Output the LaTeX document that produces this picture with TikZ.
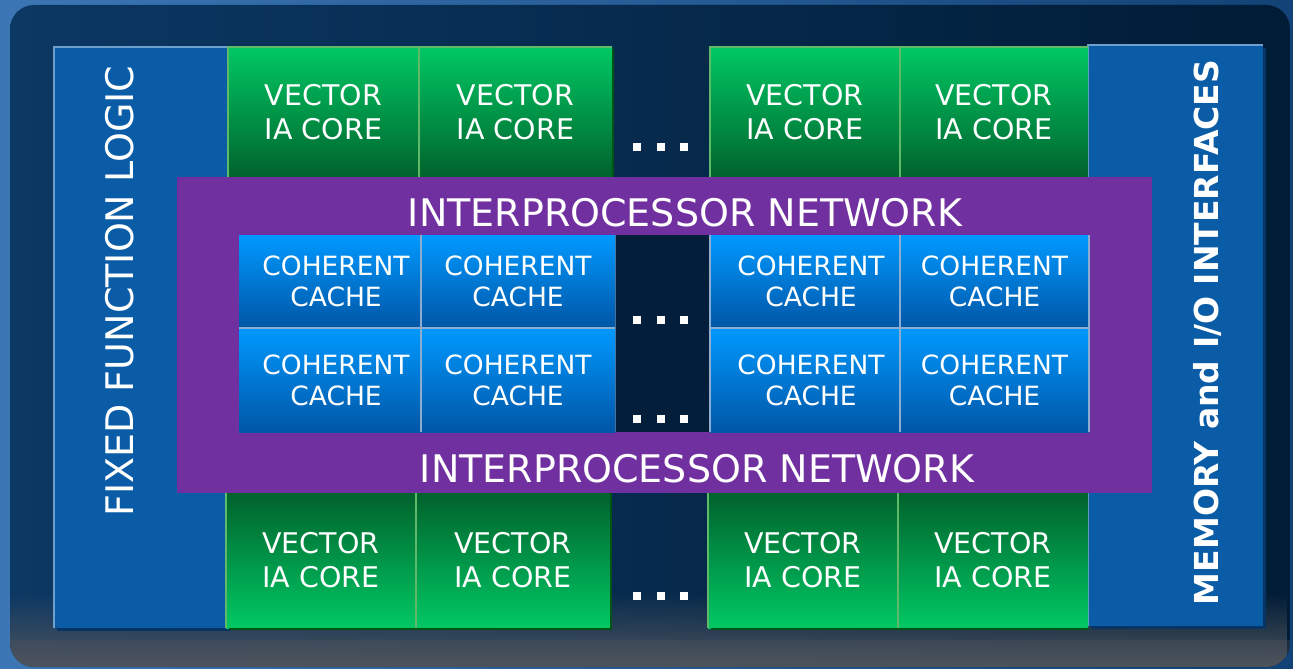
\documentclass[tikz,border=0pt]{standalone}
\usepackage{fontspec}
\setmainfont{DejaVu Sans}
\usetikzlibrary{fadings}
\definecolor{outerbg}{RGB}{26,94,168}
\definecolor{navyL}{RGB}{12,56,100}
\definecolor{navyR}{RGB}{0,28,54}
\definecolor{floorgray}{RGB}{78,84,92}
\definecolor{sidefill}{RGB}{10,92,166}
\definecolor{sideedge}{RGB}{110,160,205}
\definecolor{sideshadow}{RGB}{6,52,100}
\definecolor{greenTop}{RGB}{0,200,100}
\definecolor{greenBot}{RGB}{0,98,44}
\definecolor{greenEdge}{RGB}{95,185,105}
\definecolor{greenShadow}{RGB}{0,85,20}
\definecolor{cacheTop}{RGB}{0,153,255}
\definecolor{cacheBot}{RGB}{0,86,166}
\definecolor{cacheEdge}{RGB}{140,172,208}
\definecolor{purpleNet}{RGB}{112,48,160}
\definecolor{gapNavy}{RGB}{2,30,58}
\tikzset{
  sidebox/.style={rectangle, inner sep=0pt, fill=sidefill},
  corebox/.style={rectangle, inner sep=0pt, text=white, align=center,
    font=\fontsize{28.5}{34}\selectfont},
  coretop/.style={corebox, top color=greenTop, bottom color=greenBot},
  corebot/.style={corebox, top color=greenBot, bottom color=greenTop},
  cachebox/.style={rectangle, inner sep=0pt, text=white, align=center,
    top color=cacheTop, bottom color=cacheBot,
    font=\fontsize{26.5}{31}\selectfont},
  nettext/.style={inner sep=0pt, text=white, font=\fontsize{38}{40}\selectfont},
  dotsq/.style={rectangle, fill=white, inner sep=0pt, minimum size=8pt},
  greenline/.style={greenEdge, line width=2pt},
  greenshade/.style={greenShadow, line width=2pt},
  cacheline/.style={cacheEdge, line width=2pt},
}
\begin{document}
\begin{tikzpicture}[x=1pt,y=1pt]
\useasboundingbox (0,0) rectangle (1293,-669);
% background
\shade[left color=outerbg!85!white, right color=outerbg!70!black] (0,0) rectangle (1293,-669);
\begin{scope}
  \clip[rounded corners=24pt] (10,-5) rectangle (1290,-667);
  \shade[left color=navyL, right color=navyR] (10,-5) rectangle (1290,-667);
  \fill[floorgray, path fading=north] (10,-592) rectangle (1290,-667);
  \fill[floorgray, opacity=0.35] (10,-640) rectangle (1290,-667);
\end{scope}

% side boxes
\fill[sideshadow] (57,-50) rectangle (231,-631);
\node[sidebox, minimum width=174pt, minimum height=581pt] (ffl) at (141,-337.5) {};
\draw[sideedge, line width=2pt] (ffl.south west) -- (ffl.north west) -- (ffl.north east);
\fill[sideshadow] (1091,-48) rectangle (1266,-629);
\node[sidebox, minimum width=175pt, minimum height=581pt] (mem) at (1175.5,-335.5) {};
\draw[sideedge, line width=2pt] (mem.south west) -- (mem.north west) -- (mem.north east);

% top cores
\node[coretop, minimum width=191pt, minimum height=131pt] (t1) at (323.5,-112.5) {VECTOR\\IA CORE};
\node[coretop, minimum width=193pt, minimum height=131pt] (t2) at (515.5,-112.5) {VECTOR\\IA CORE};
\node[coretop, minimum width=190pt, minimum height=131pt] (t3) at (805,-112.5) {VECTOR\\IA CORE};
\node[coretop, minimum width=188pt, minimum height=131pt] (t4) at (994,-112.5) {VECTOR\\IA CORE};
\draw[greenshade] ([xshift=1pt,yshift=-2pt]t2.north east) -- ([xshift=1pt]t2.south east);
\draw[greenline] (t1.south west) -- (t1.north west) -- (t2.north east);
\draw[greenline] (t1.north east) -- (t1.south east);
\draw[greenline] (t3.south west) -- (t3.north west) -- (t4.north east);
\draw[greenline] (t3.north east) -- (t3.south east);

% bottom cores
\node[corebot, minimum width=190pt, minimum height=135pt] (b1) at (321,-560.5) {VECTOR\\IA CORE};
\node[corebot, minimum width=194pt, minimum height=135pt] (b2) at (513,-560.5) {VECTOR\\IA CORE};
\node[corebot, minimum width=190pt, minimum height=135pt] (b3) at (803,-560.5) {VECTOR\\IA CORE};
\node[corebot, minimum width=190pt, minimum height=135pt] (b4) at (993,-560.5) {VECTOR\\IA CORE};
\draw[greenshade] ([xshift=1pt]b2.north east) -- ([xshift=1pt,yshift=-1pt]b2.south east) -- ([xshift=3pt,yshift=-1pt]b1.south west);
\draw[greenshade] ([yshift=-1pt]b4.south east) -- ([xshift=3pt,yshift=-1pt]b3.south west);
\draw[greenline] (b1.north west) -- (b1.south west);
\draw[greenline] (b1.north east) -- (b1.south east);
\draw[greenline] (b3.north west) -- (b3.south west);
\draw[greenline] (b3.north east) -- (b3.south east);

% interprocessor network
\node[rectangle, inner sep=0pt, fill=purpleNet, minimum width=975pt, minimum height=316pt] (net) at (664.5,-335) {};
\node[nettext] (netT) at (685,-213) {INTERPROCESSOR NETWORK};
\node[nettext] (netB) at (697,-469) {INTERPROCESSOR NETWORK};

% gap between cache blocks
\node[rectangle, inner sep=0pt, fill=gapNavy, minimum width=95pt, minimum height=197pt] (gap) at (662.5,-333.5) {};
\draw[cacheEdge!60!gapNavy, line width=1.5pt] (gap.north west) -- (gap.south west);

% caches
\node[cachebox, minimum width=182pt, minimum height=93pt] (c11) at (330,-281.5) {\hspace*{12pt}COHERENT\\\hspace*{12pt}CACHE};
\node[cachebox, minimum width=194pt, minimum height=93pt] (c12) at (518,-281.5) {COHERENT\\CACHE};
\node[cachebox, minimum width=190pt, minimum height=93pt] (c13) at (805,-281.5) {\hspace*{12pt}COHERENT\\\hspace*{12pt}CACHE};
\node[cachebox, minimum width=189pt, minimum height=93pt] (c14) at (994.5,-281.5) {COHERENT\\CACHE};
\node[cachebox, minimum width=182pt, minimum height=104pt] (c21) at (330,-380) {\hspace*{12pt}COHERENT\\\hspace*{12pt}CACHE};
\node[cachebox, minimum width=194pt, minimum height=104pt] (c22) at (518,-380) {COHERENT\\CACHE};
\node[cachebox, minimum width=190pt, minimum height=104pt] (c23) at (805,-380) {\hspace*{12pt}COHERENT\\\hspace*{12pt}CACHE};
\node[cachebox, minimum width=189pt, minimum height=104pt] (c24) at (994.5,-380) {COHERENT\\CACHE};
\draw[cacheline] (c11.north east) -- (c21.south east);
\draw[cacheline] (c11.south west) -- (c12.south east);
\draw[cacheline] (c13.north east) -- (c23.south east);
\draw[cacheline] (c13.south west) -- (c14.south east);
\draw[cacheline] (c13.north west) -- (c23.south west);
\draw[cacheline] (c14.north east) -- (c24.south east);

% dots
\foreach \n/\y in {a/147, b/320, c/419, d/596} {
  \node[dotsq] (dot\n1) at (637,-\y) {};
  \node[dotsq] (dot\n2) at (660.5,-\y) {};
  \node[dotsq] (dot\n3) at (684,-\y) {};
}

% side labels
\node[inner sep=0pt, text=white, rotate=90, font=\fontsize{38}{40}\selectfont] (fflT) at (120,-291) {FIXED FUNCTION LOGIC};
\node[inner sep=0pt, text=white, rotate=90, font=\bfseries\fontsize{33}{36}\selectfont] (memT) at (1207,-332.5) {MEMORY and I/O INTERFACES};
\end{tikzpicture}
\end{document}
